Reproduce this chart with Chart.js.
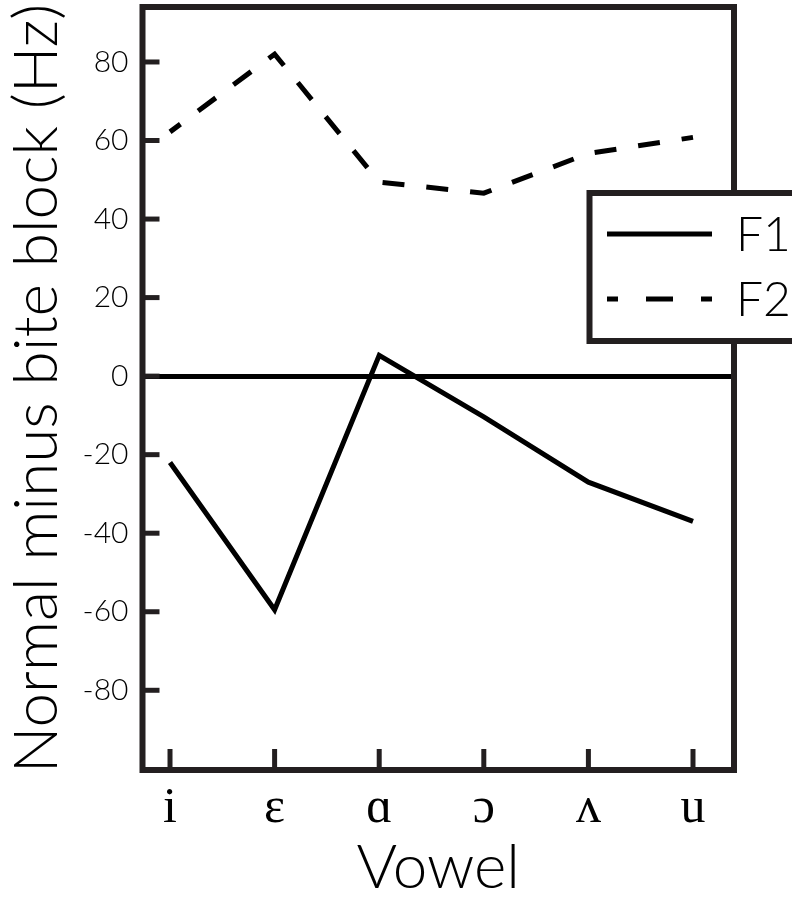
<!DOCTYPE html>
<html>
<head>
<meta charset="utf-8">
<script src="https://cdn.jsdelivr.net/npm/chart.js@4/dist/chart.umd.min.js"></script>
<style>
  html, body { margin: 0; padding: 0; background: #fff; }
  #wrap { width: 792px; height: 899px; position: relative; }
</style>
</head>
<body>
<div id="wrap"><canvas id="vowelChart"></canvas></div>
<script>
// vowel categories and formant differences (normal minus bite block, Hz)
const vowels = ['i', 'ɛ', 'ɑ', 'ɔ', 'ʌ', 'u'];
const f1Values = [-22, -59.5, 5.3, -10.4, -27, -37];
const f2Values = [62.2, 82, 49.4, 46.6, 56.7, 60.8];
const yTickValues = [-80, -60, -40, -20, 0, 20, 40, 60, 80];
const seriesNames = ['F1', 'F2'];

const INK = '#231f20';
const SANS = 'Lato, "Open Sans", sans-serif';

// frame, inward tick marks and the boxed legend
const framePlugin = {
  id: 'frame',
  afterDraw(chart) {
    const c = chart.ctx;
    const a = chart.chartArea;
    const xs = chart.scales.x;
    const ys = chart.scales.y;
    c.save();
    c.strokeStyle = INK;
    c.lineCap = 'butt';

    // tick marks pointing into the plot
    c.lineWidth = 5;
    ys.ticks.forEach(t => {
      const py = ys.getPixelForValue(t.value);
      c.beginPath();
      c.moveTo(a.left, py);
      c.lineTo(a.left + 17, py);
      c.stroke();
    });
    xs.ticks.forEach(t => {
      const px = xs.getPixelForValue(t.value);
      c.beginPath();
      c.moveTo(px, a.bottom);
      c.lineTo(px, a.bottom - 21);
      c.stroke();
    });

    c.lineWidth = 6;
    c.strokeRect(a.left, a.top, a.right - a.left, a.bottom - a.top);

    // legend box
    const bx = 589.5, by = 193, bw = 220, bh = 148;
    c.fillStyle = '#fff';
    c.fillRect(bx, by, bw, bh);
    c.strokeRect(bx, by, bw, bh);

    c.strokeStyle = '#000';
    c.lineWidth = 5;
    c.beginPath();
    c.moveTo(607, 234);
    c.lineTo(712, 234);
    c.stroke();
    c.setLineDash([27, 28]);
    c.lineDashOffset = 16;
    c.beginPath();
    c.moveTo(607, 299);
    c.lineTo(712, 299);
    c.stroke();
    c.setLineDash([]);

    c.fillStyle = '#000';
    c.font = '300 48px ' + SANS;
    c.textAlign = 'left';
    c.textBaseline = 'middle';
    c.fillText(seriesNames[0], 736, 236);
    c.fillText(seriesNames[1], 736, 301);
    c.restore();
  }
};

const toPoints = vals => vals.map((v, i) => ({ x: i, y: v }));

const config = {
  type: 'line',
  data: {
    datasets: [{
      label: seriesNames[0],
      data: toPoints(f1Values),
      borderColor: '#000',
      borderWidth: 5,
      borderJoinStyle: 'miter',
      pointRadius: 0,
      tension: 0,
      fill: false
    }, {
      label: seriesNames[1],
      data: toPoints(f2Values),
      borderColor: '#000',
      borderWidth: 5,
      borderDash: [22, 22],
      borderDashOffset: 9,
      borderJoinStyle: 'miter',
      pointRadius: 0,
      tension: 0,
      fill: false
    }]
  },
  options: {
    responsive: true,
    maintainAspectRatio: false,
    animation: false,
    layout: { padding: { top: 7, right: 58, left: 0, bottom: 0 } },
    plugins: {
      legend: { display: false },
      tooltip: { enabled: false }
    },
    scales: {
      x: {
        type: 'linear',
        min: -0.263,
        max: 5.392,
        afterFit: s => {
          s.height = 129;
          s.paddingLeft = 0;
          s.paddingRight = 0;
        },
        afterBuildTicks: s => { s.ticks = vowels.map((v, i) => ({ value: i })); },
        border: { display: false },
        grid: { display: false, drawTicks: false },
        ticks: {
          padding: 9,
          color: '#000',
          font: { family: '"Liberation Serif", "DejaVu Serif", serif', size: 50 },
          callback: v => vowels[v]
        },
        title: {
          display: true,
          text: 'Vowel',
          color: '#000',
          font: { family: SANS, size: 62, weight: 300, lineHeight: 1 },
          padding: { top: 0, bottom: 0 }
        }
      },
      y: {
        min: -100.3,
        max: 94,
        afterFit: s => {
          s.width = 142.5;
          s.paddingTop = 0;
          s.paddingBottom = 0;
        },
        afterBuildTicks: s => { s.ticks = yTickValues.map(v => ({ value: v })); },
        border: { display: false },
        grid: {
          drawTicks: false,
          lineWidth: 5,
          color: ctx => (ctx.tick && ctx.tick.value === 0 ? '#000' : 'rgba(0,0,0,0)')
        },
        ticks: {
          padding: 14,
          color: '#000',
          font: { family: SANS, size: 30, weight: 300 }
        },
        title: {
          display: true,
          text: 'Normal minus bite block (Hz)',
          color: '#000',
          font: { family: SANS, size: 62, weight: 300, lineHeight: 1 },
          padding: { top: 6, bottom: 0 }
        }
      }
    }
  },
  plugins: [framePlugin]
};

new Chart(document.getElementById('vowelChart'), config);
</script>
</body>
</html>
